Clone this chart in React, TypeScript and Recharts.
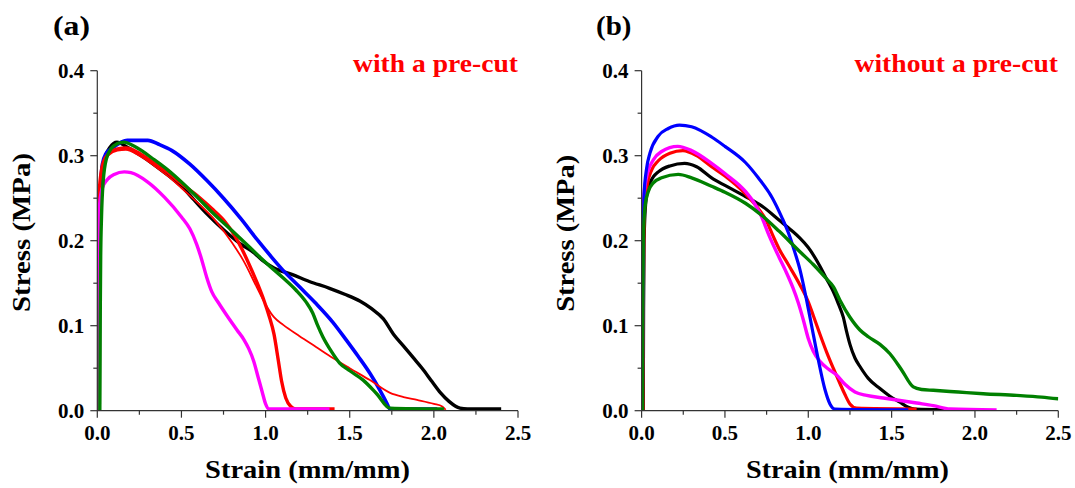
import { LineChart, Line, XAxis, YAxis } from "recharts";

const FONT = "Liberation Serif";
const AXIS = "#333";

const X_MAJOR = [0, 0.5, 1, 1.5, 2, 2.5];
const X_TICKS = [0, 0.25, 0.5, 0.75, 1, 1.25, 1.5, 1.75, 2, 2.25, 2.5];
const Y_MAJOR = [0, 0.1, 0.2, 0.3, 0.4];
const Y_TICKS = [0, 0.05, 0.1, 0.15, 0.2, 0.25, 0.3, 0.35, 0.4];

// (a) with a pre-cut : [strain, stress]
const aBlack: [number, number][] = [
  [0.012, 0], [0.014, 0.12], [0.018, 0.24], [0.03, 0.28], [0.05, 0.3], [0.076, 0.31], [0.117, 0.316],
  [0.178, 0.31], [0.26, 0.3], [0.34, 0.289], [0.42, 0.277], [0.5, 0.264], [0.575, 0.248], [0.65, 0.232],
  [0.75, 0.213], [0.853, 0.196], [0.93, 0.186], [0.98, 0.177], [1.05, 0.168], [1.16, 0.16], [1.26, 0.152],
  [1.38, 0.144], [1.47, 0.137], [1.56, 0.129], [1.63, 0.12], [1.7, 0.108], [1.76, 0.09], [1.82, 0.076],
  [1.875, 0.063], [1.93, 0.05], [1.99, 0.034], [2.04, 0.021], [2.09, 0.011], [2.155, 0.003], [2.2, 0.002],
  [2.4, 0.002],
];
const aBlue: [number, number][] = [
  [0.01, 0], [0.012, 0.12], [0.016, 0.24], [0.03, 0.29], [0.05, 0.302], [0.096, 0.31], [0.178, 0.318],
  [0.3, 0.318], [0.37, 0.313], [0.444, 0.306], [0.55, 0.29], [0.65, 0.271], [0.75, 0.25], [0.853, 0.226],
  [0.955, 0.2], [1.03, 0.182], [1.1, 0.166], [1.2, 0.146], [1.3, 0.126], [1.4, 0.104], [1.48, 0.083],
  [1.55, 0.064], [1.62, 0.044], [1.68, 0.024], [1.72, 0.009], [1.74, 0.002], [2.02, 0.002],
];
const aRedThick: [number, number][] = [
  [0, 0], [0.003, 0.12], [0.006, 0.22], [0.012, 0.26], [0.035, 0.292], [0.07, 0.303], [0.12, 0.308],
  [0.17, 0.309], [0.25, 0.303], [0.34, 0.291], [0.42, 0.28], [0.5, 0.267], [0.6, 0.252], [0.69, 0.236],
  [0.76, 0.222], [0.81, 0.208], [0.86, 0.19], [0.907, 0.17], [0.955, 0.148], [0.99, 0.13], [1.02, 0.112],
  [1.05, 0.09], [1.075, 0.06], [1.095, 0.035], [1.12, 0.015], [1.15, 0.005], [1.18, 0.002], [1.41, 0.002],
];
const aRedThin: [number, number][] = [
  [0, 0], [0.003, 0.12], [0.006, 0.22], [0.012, 0.26], [0.035, 0.29], [0.07, 0.301], [0.12, 0.306],
  [0.17, 0.307], [0.25, 0.3], [0.34, 0.288], [0.42, 0.276], [0.5, 0.262], [0.6, 0.244], [0.7, 0.224],
  [0.8, 0.198], [0.87, 0.176], [0.946, 0.146], [1.0, 0.125], [1.05, 0.11], [1.105, 0.101], [1.2, 0.088],
  [1.3, 0.075], [1.4, 0.062], [1.5, 0.05], [1.62, 0.036], [1.74, 0.021], [1.82, 0.016], [1.9, 0.0126],
  [2.0, 0.008], [2.05, 0.005], [2.07, 0.001],
];
const aMagenta: [number, number][] = [
  [0.004, 0], [0.006, 0.12], [0.009, 0.2], [0.015, 0.245], [0.03, 0.262], [0.06, 0.272], [0.1, 0.278],
  [0.16, 0.281], [0.2, 0.28], [0.3, 0.269], [0.4, 0.251], [0.5, 0.228], [0.55, 0.214], [0.59, 0.196],
  [0.62, 0.178], [0.65, 0.157], [0.68, 0.14], [0.72, 0.127], [0.77, 0.112], [0.83, 0.095], [0.87, 0.084],
  [0.9, 0.073], [0.93, 0.058], [0.955, 0.04], [0.98, 0.022], [1.0, 0.008], [1.02, 0.002], [1.38, 0.002],
];
const aGreen: [number, number][] = [
  [0.015, 0], [0.017, 0.1], [0.02, 0.18], [0.025, 0.228], [0.035, 0.27], [0.055, 0.297], [0.085, 0.309],
  [0.117, 0.314], [0.158, 0.316], [0.22, 0.311], [0.34, 0.295], [0.42, 0.283], [0.5, 0.269], [0.6, 0.25],
  [0.69, 0.232], [0.8, 0.212], [0.907, 0.192], [0.97, 0.18], [1.025, 0.17], [1.1, 0.157], [1.18, 0.142],
  [1.24, 0.128], [1.28, 0.115], [1.31, 0.1], [1.34, 0.087], [1.39, 0.07], [1.44, 0.056], [1.5, 0.047],
  [1.58, 0.036], [1.66, 0.02], [1.74, 0.003], [2.06, 0.002],
];

// (b) without a pre-cut
const bBlack: [number, number][] = [
  [0.01, 0], [0.012, 0.12], [0.015, 0.2], [0.025, 0.245], [0.04, 0.262], [0.07, 0.275], [0.1, 0.281],
  [0.17, 0.288], [0.258, 0.291], [0.33, 0.287], [0.42, 0.274], [0.5, 0.265], [0.623, 0.252], [0.72, 0.241],
  [0.826, 0.224], [0.9, 0.212], [0.95, 0.203], [1.0, 0.192], [1.07, 0.17], [1.11, 0.155], [1.15, 0.14],
  [1.18, 0.126], [1.21, 0.11], [1.23, 0.093], [1.25, 0.078], [1.28, 0.062], [1.31, 0.052], [1.36, 0.038],
  [1.43, 0.026], [1.49, 0.017], [1.55, 0.01], [1.6, 0.004], [1.64, 0.002], [2.05, 0.001],
];
const bRed: [number, number][] = [
  [0.008, 0], [0.01, 0.12], [0.013, 0.2], [0.02, 0.245], [0.035, 0.267], [0.06, 0.283], [0.1, 0.294],
  [0.17, 0.303], [0.248, 0.306], [0.33, 0.3], [0.42, 0.287], [0.5, 0.276], [0.623, 0.255], [0.7, 0.238],
  [0.745, 0.225], [0.79, 0.205], [0.826, 0.19], [0.88, 0.172], [0.95, 0.148], [1.0, 0.128], [1.03, 0.112],
  [1.07, 0.09], [1.11, 0.069], [1.15, 0.05], [1.19, 0.032], [1.22, 0.019], [1.25, 0.008], [1.29, 0.003],
  [1.65, 0.002],
];
const bMagenta: [number, number][] = [
  [0.004, 0], [0.006, 0.12], [0.009, 0.22], [0.015, 0.255], [0.03, 0.275], [0.07, 0.295], [0.12, 0.305],
  [0.217, 0.311], [0.3, 0.306], [0.42, 0.291], [0.5, 0.279], [0.623, 0.258], [0.68, 0.243], [0.72, 0.228],
  [0.765, 0.206], [0.826, 0.18], [0.87, 0.162], [0.907, 0.145], [0.94, 0.127], [0.97, 0.107], [1.0, 0.085],
  [1.03, 0.07], [1.07, 0.058], [1.12, 0.049], [1.17, 0.042], [1.22, 0.031], [1.28, 0.022], [1.35, 0.018],
  [1.45, 0.015], [1.55, 0.012], [1.65, 0.009], [1.75, 0.006], [1.85, 0.002], [2.13, 0.001],
];
const bBlue: [number, number][] = [
  [0.005, 0], [0.007, 0.12], [0.01, 0.2], [0.015, 0.255], [0.03, 0.285], [0.05, 0.303], [0.1, 0.323],
  [0.16, 0.332], [0.227, 0.336], [0.3, 0.334], [0.42, 0.322], [0.5, 0.311], [0.623, 0.292], [0.7, 0.274],
  [0.785, 0.25], [0.84, 0.228], [0.887, 0.206], [0.92, 0.186], [0.95, 0.166], [0.99, 0.13], [1.02, 0.1],
  [1.06, 0.06], [1.1, 0.025], [1.13, 0.008], [1.16, 0.002], [1.6, 0.001],
];
const bGreen: [number, number][] = [
  [0.005, 0], [0.007, 0.1], [0.01, 0.2], [0.02, 0.24], [0.04, 0.258], [0.07, 0.268], [0.12, 0.274],
  [0.22, 0.278], [0.3, 0.274], [0.42, 0.264], [0.5, 0.257], [0.623, 0.244], [0.72, 0.23], [0.826, 0.211],
  [0.95, 0.187], [1.03, 0.172], [1.11, 0.155], [1.15, 0.146], [1.19, 0.13], [1.25, 0.11], [1.31, 0.095],
  [1.36, 0.087], [1.43, 0.078], [1.49, 0.067], [1.56, 0.048], [1.63, 0.028], [1.68, 0.025], [1.75, 0.024],
  [1.9, 0.022], [2.05, 0.02], [2.25, 0.018], [2.4, 0.016], [2.5, 0.014],
];

type Series = { name: string; pts: [number, number][]; color: string; width: number };

const seriesA: Series[] = [
  { name: "black", pts: aBlack, color: "#000000", width: 3.4 },
  { name: "blue", pts: aBlue, color: "#0000ff", width: 3.6 },
  { name: "red", pts: aRedThick, color: "#ff0000", width: 3.4 },
  { name: "red2", pts: aRedThin, color: "#ff0000", width: 1.8 },
  { name: "magenta", pts: aMagenta, color: "#ff00ff", width: 3.4 },
  { name: "green", pts: aGreen, color: "#008000", width: 3.4 },
];
const seriesB: Series[] = [
  { name: "black", pts: bBlack, color: "#000000", width: 3.2 },
  { name: "red", pts: bRed, color: "#ff0000", width: 3.2 },
  { name: "magenta", pts: bMagenta, color: "#ff00ff", width: 3.4 },
  { name: "blue", pts: bBlue, color: "#0000ff", width: 3.2 },
  { name: "green", pts: bGreen, color: "#008000", width: 3.4 },
];

const PLOT_TOP = 70.7;
const PLOT_BOTTOM = 410.7;
const X_AXIS_H = 40;
const Y_AXIS_W = 50;

const isIn = (arr: number[], v: number) => arr.some((m) => Math.abs(m - v) < 1e-6);

function XTick(props: any) {
  const { x, y, payload } = props;
  const v = payload.value as number;
  const major = isIn(X_MAJOR, v);
  return (
    <g>
      <line x1={x} x2={x} y1={y} y2={y + (major ? 7 : 4)} stroke={AXIS} strokeWidth={1.2} />
      {major && (
        <text x={x} y={y + 29} textAnchor="middle" fontFamily={FONT} fontWeight="bold" fontSize={21} fill="#000">
          {v.toFixed(1)}
        </text>
      )}
    </g>
  );
}

function YTick(props: any) {
  const { x, y, payload } = props;
  const v = payload.value as number;
  const major = isIn(Y_MAJOR, v);
  return (
    <g>
      <line x1={x - (major ? 7 : 4)} x2={x} y1={y} y2={y} stroke={AXIS} strokeWidth={1.2} />
      {major && (
        <text x={x - 13} y={y + 7} textAnchor="end" fontFamily={FONT} fontWeight="bold" fontSize={21} fill="#000">
          {v.toFixed(1)}
        </text>
      )}
    </g>
  );
}

function Panel({ left, width, plotLeft, plotRight, series }: {
  left: number; width: number; plotLeft: number; plotRight: number; series: Series[];
}) {
  return (
    <div style={{ position: "absolute", left, top: 0 }}>
      <LineChart
        width={width}
        height={488}
        margin={{
          top: PLOT_TOP,
          bottom: 488 - PLOT_BOTTOM - X_AXIS_H,
          left: plotLeft - Y_AXIS_W,
          right: width - plotRight,
        }}
      >
        <XAxis
          type="number"
          dataKey="x"
          domain={[0, 2.5]}
          ticks={X_TICKS}
          interval={0}
          height={X_AXIS_H}
          tickSize={0}
          tickMargin={0}
          tickLine={false}
          axisLine={{ stroke: AXIS, strokeWidth: 1.2 }}
          tick={XTick}
          allowDataOverflow
        />
        <YAxis
          type="number"
          domain={[0, 0.4]}
          ticks={Y_TICKS}
          interval={0}
          width={Y_AXIS_W}
          tickSize={0}
          tickMargin={0}
          tickLine={false}
          axisLine={{ stroke: AXIS, strokeWidth: 1.2 }}
          tick={YTick}
          allowDataOverflow
        />
        {series.map((s) => (
          <Line
            key={s.name}
            data={s.pts.map(([x, y]) => ({ x, y }))}
            dataKey="y"
            type="monotone"
            stroke={s.color}
            strokeWidth={s.width}
            strokeLinejoin="round"
            dot={false}
            activeDot={false}
            isAnimationActive={false}
          />
        ))}
      </LineChart>
    </div>
  );
}

const txt = { fontFamily: FONT, fontWeight: "bold" as const };

export default function App() {
  return (
    <div style={{ position: "absolute", left: 0, top: 0, width: 1075, height: 488, background: "#fff" }}>
      <Panel left={0} width={540} plotLeft={97.3} plotRight={518} series={seriesA} />
      <Panel left={540} width={535} plotLeft={101.6} plotRight={518.3} series={seriesB} />
      <svg width={1075} height={488} style={{ position: "absolute", left: 0, top: 0, pointerEvents: "none" }}>
        <text x={53} y={35} fontSize={28} textLength={37} lengthAdjust="spacingAndGlyphs" {...txt}>(a)</text>
        <text x={353} y={72} fontSize={26} textLength={165} lengthAdjust="spacingAndGlyphs" fill="#ff0000" {...txt}>
          with a pre-cut
        </text>
        <text x={307.6} y={478} fontSize={26} textAnchor="middle" textLength={205} lengthAdjust="spacingAndGlyphs" {...txt}>
          Strain (mm/mm)
        </text>
        <text transform="translate(30,232.5) rotate(-90)" fontSize={26} textAnchor="middle" textLength={159} lengthAdjust="spacingAndGlyphs" {...txt}>
          Stress (MPa)
        </text>

        <text x={596} y={35} fontSize={28} textLength={35.5} lengthAdjust="spacingAndGlyphs" {...txt}>(b)</text>
        <text x={854.5} y={72} fontSize={26} textLength={203.5} lengthAdjust="spacingAndGlyphs" fill="#ff0000" {...txt}>
          without a pre-cut
        </text>
        <text x={847.5} y={478} fontSize={26} textAnchor="middle" textLength={203} lengthAdjust="spacingAndGlyphs" {...txt}>
          Strain (mm/mm)
        </text>
        <text transform="translate(574,233.3) rotate(-90)" fontSize={26} textAnchor="middle" textLength={157} lengthAdjust="spacingAndGlyphs" {...txt}>
          Stress (MPa)
        </text>
      </svg>
    </div>
  );
}
